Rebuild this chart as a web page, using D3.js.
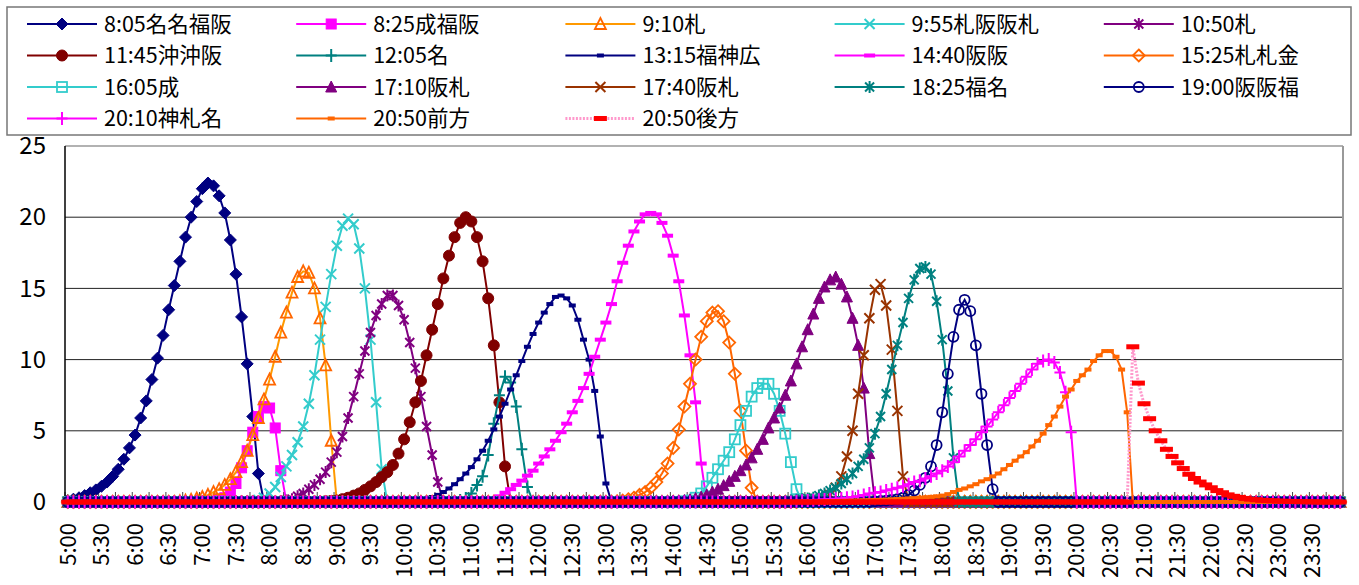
<!DOCTYPE html>
<html>
<head>
<meta charset="utf-8">
<script src="https://cdn.jsdelivr.net/npm/d3@7"></script>
<style>
body { margin: 0; background: #fff; }
svg { display: block; }
text { font-family: "Noto Sans CJK JP", sans-serif; fill: #000; }
</style>
</head>
<body>
<div id="chart"></div>
<script>
// categories: every 5 minutes from 5:00 to 23:55
const times = [];
for (let h = 5; h < 24; h++) {
	for (let m = 0; m < 60; m += 5) {
		times.push(h + ":" + (m < 10 ? "0" : "") + m);
	}
}
const tickLabels = times.filter((t, i) => i % 6 == 0);
const yTicks = [0, 5, 10, 15, 20, 25];

const names = ["8:05名名福阪", "8:25成福阪", "9:10札", "9:55札阪阪札", "10:50札",
	"11:45沖沖阪", "12:05名", "13:15福神広", "14:40阪阪", "15:25札札金",
	"16:05成", "17:10阪札", "17:40阪札", "18:25福名", "19:00阪阪福",
	"20:10神札名", "20:50前方", "20:50後方"];

// first category of each series' non-zero part (zero everywhere else)
const starts = ["5:00", "7:15", "6:40", "7:45", "8:10", "8:50", "10:50", "10:10", "11:10",
	"13:10", "14:10", "14:00", "16:10", "15:40", "17:00", "15:50", "16:15", "20:50"];

const s0805 = [0.1, 0.2, 0.3, 0.45, 0.65, 0.85, 1.1, 1.4, 1.8, 2.3, 3.0, 3.8, 4.7, 5.9, 7.1, 8.6, 10.1, 11.7,
	13.5, 15.2, 16.9, 18.6, 20.0, 21.1, 22.0, 22.4, 22.2, 21.5, 20.3, 18.4, 16.0, 13.0, 9.7, 6.0, 2.0];
const s0825 = [0.1, 0.3, 0.7, 1.3, 2.4, 3.6, 4.9, 6.0, 6.7, 6.6, 5.2, 2.2];
const s0910 = [0.05, 0.1, 0.15, 0.25, 0.35, 0.5, 0.7, 0.9, 1.2, 1.6, 2.1, 2.8, 3.6, 4.7, 5.9, 7.2, 8.6, 10.2,
	11.9, 13.3, 14.7, 15.8, 16.2, 16.1, 15.0, 12.9, 9.6, 4.3];
const s0955 = [0.05, 0.15, 0.3, 0.6, 1.05, 1.75, 2.5, 3.3, 4.2, 5.3, 6.9, 8.9, 11.4, 13.7, 16.0, 18.0, 19.4, 19.9,
	19.5, 17.8, 15.0, 11.4, 7.0, 2.3];
const s1050 = [0.05, 0.1, 0.2, 0.4, 0.6, 0.9, 1.2, 1.6, 2.1, 2.8, 3.5, 4.6, 5.9, 7.4, 9.0, 10.6, 11.9, 13.1,
	13.9, 14.5, 14.5, 13.8, 12.8, 11.2, 9.4, 7.4, 5.3, 3.3, 1.4];
const s1145 = [0.05, 0.08, 0.1, 0.2, 0.3, 0.45, 0.6, 0.85, 1.1, 1.4, 1.75, 2.1, 2.6, 3.4, 4.4, 5.6, 7.0, 8.5,
	10.3, 12.1, 13.9, 15.7, 17.3, 18.6, 19.6, 20.0, 19.7, 18.6, 16.9, 14.3, 11.0, 7.0, 2.5];
const s1205 = [0.1, 0.25, 0.6, 1.2, 1.8, 3.3, 5.5, 7.5, 8.8, 8.4, 6.7, 3.7, 1.05];
const s1315 = [0.05, 0.1, 0.2, 0.35, 0.5, 0.7, 0.95, 1.25, 1.6, 2.0, 2.45, 3.0, 3.6, 4.3, 5.1, 6.0, 6.9, 7.9,
	8.9, 9.9, 10.9, 11.8, 12.6, 13.3, 13.9, 14.4, 14.5, 14.3, 13.8, 12.8, 11.4, 10.0, 7.8, 4.6, 1.3];
const s1440 = [0.05, 0.1, 0.2, 0.4, 0.65, 0.9, 1.2, 1.5, 1.85, 2.2, 2.7, 3.2, 3.7, 4.3, 4.9, 5.5, 6.3, 7.1,
	8.0, 9.0, 10.2, 11.4, 12.6, 13.9, 15.5, 16.8, 18.0, 19.0, 19.7, 20.2, 20.3, 20.2, 19.6, 18.7, 17.3, 15.5,
	13.1, 10.3, 7.0, 2.7];
const s1525 = [0.05, 0.1, 0.2, 0.3, 0.5, 0.7, 1.0, 1.4, 2.0, 2.7, 3.8, 5.1, 6.7, 8.3, 10.0, 11.6, 12.7, 13.3,
	13.4, 12.7, 11.2, 9.0, 6.4, 3.6, 1.0];
const s1605 = [0.05, 0.1, 0.3, 0.6, 1.1, 1.7, 2.3, 2.9, 3.5, 4.4, 5.4, 6.4, 7.4, 8.0, 8.3, 8.3, 7.6, 6.4, 4.8,
	2.8, 0.9];
const s1710 = [0.05, 0.08, 0.1, 0.15, 0.25, 0.35, 0.5, 0.7, 0.9, 1.15, 1.45, 1.8, 2.2, 2.6, 3.1, 3.7, 4.4, 5.2,
	5.9, 6.6, 7.5, 8.5, 9.7, 10.9, 12.1, 13.2, 14.3, 15.1, 15.6, 15.8, 15.3, 14.4, 12.9, 11.0, 8.0, 3.4];
const s1740 = [0.1, 0.2, 0.5, 1.0, 1.8, 3.2, 5.0, 7.6, 10.3, 12.9, 14.9, 15.3, 13.8, 10.7, 6.4, 1.8];
const s1825 = [0.05, 0.1, 0.15, 0.2, 0.25, 0.3, 0.45, 0.6, 0.8, 1.0, 1.3, 1.6, 2.0, 2.5, 3.0, 3.8, 4.8, 6.0,
	7.6, 9.3, 11.0, 12.6, 14.3, 15.6, 16.4, 16.5, 16.0, 14.1, 11.4, 7.8, 3.1];
const s1900 = [0.05, 0.08, 0.1, 0.15, 0.2, 0.3, 0.5, 0.8, 1.2, 1.7, 2.5, 4.0, 6.3, 9.0, 11.6, 13.5, 14.2, 13.4,
	11.0, 7.6, 4.0, 0.9];
const s2010 = [0.05, 0.08, 0.1, 0.12, 0.15, 0.18, 0.2, 0.22, 0.25, 0.3, 0.35, 0.4, 0.5, 0.6, 0.65, 0.7, 0.8, 0.9,
	1.0, 1.1, 1.25, 1.4, 1.5, 1.65, 1.8, 2.0, 2.2, 2.5, 2.8, 3.2, 3.6, 4.0, 4.4, 4.9, 5.3, 5.8, 6.3, 6.8, 7.3,
	7.8, 8.3, 8.8, 9.3, 9.7, 9.9, 10.0, 9.8, 9.1, 7.7, 4.9];
const s2050a = [0.05, 0.06, 0.07, 0.08, 0.09, 0.1, 0.11, 0.12, 0.13, 0.14, 0.15, 0.17, 0.19, 0.21, 0.23, 0.25,
	0.27, 0.3, 0.33, 0.36, 0.4, 0.45, 0.55, 0.7, 0.85, 0.95, 1.1, 1.25, 1.45, 1.6, 1.8, 2.0, 2.3, 2.6, 2.9, 3.2,
	3.5, 3.9, 4.3, 4.8, 5.4, 6.0, 6.7, 7.4, 7.9, 8.5, 8.9, 9.3, 9.9, 10.3, 10.6, 10.6, 10.2, 9.3, 6.3];
const s2050b = [10.9, 8.35, 6.9, 5.85, 5.0, 4.3, 3.7, 3.2, 2.75, 2.35, 1.95, 1.65, 1.4, 1.2, 1.0, 0.8, 0.65,
	0.5, 0.4, 0.32, 0.25, 0.2, 0.16, 0.12, 0.1, 0.08, 0.06, 0.05, 0.04, 0.03, 0.02, 0.02, 0.01];

const parts = [s0805, s0825, s0910, s0955, s1050, s1145, s1205, s1315, s1440, s1525,
	s1605, s1710, s1740, s1825, s1900, s2010, s2050a, s2050b];

// line colour, marker type, marker colour, filled
const styles = [
	{ c: "#000080", m: "diamond", f: true },
	{ c: "#FF00FF", m: "square", f: true },
	{ c: "#FF9900", mc: "#FF6600", m: "triangle", f: false },
	{ c: "#33CCCC", m: "x" },
	{ c: "#800080", m: "star" },
	{ c: "#800000", m: "circle", f: true },
	{ c: "#008080", m: "plus" },
	{ c: "#000080", m: "dash" },
	{ c: "#FF00FF", m: "longdash" },
	{ c: "#FF6600", m: "diamond", f: false },
	{ c: "#33CCCC", m: "square", f: false },
	{ c: "#800080", m: "triangle", f: true },
	{ c: "#993300", m: "x" },
	{ c: "#008080", m: "star" },
	{ c: "#000080", m: "circle", f: false },
	{ c: "#FF00FF", m: "plus" },
	{ c: "#FF6600", m: "dash" },
	{ c: "#FF99CC", mc: "#FF0000", m: "bigdash", dash: "2,1.5", w: 3 }
];

const series = names.map((name, k) => {
	const s = times.indexOf(starts[k]);
	const vals = times.map((t, i) => (i >= s && i < s + parts[k].length) ? parts[k][i - s] : 0);
	return { name: name, values: vals, style: styles[k] };
});

const W = 1359, H = 585;
const plotL = 65, plotR = 1343, plotT = 146, plotB = 502;

const svg = d3.select("#chart").append("svg")
	.attr("width", W)
	.attr("height", H);

const x = d3.scaleBand().domain(times).range([plotL, plotR]);
const cx = (t) => x(t) + x.bandwidth() / 2;
const y = d3.scaleLinear().domain([0, 25]).range([plotB, plotT]);

function marker(g, st) {
	const col = st.mc || st.c;
	const fill = st.f ? col : "none";
	switch (st.m) {
		case "diamond":
			g.append("path").attr("d", "M0,-6L6,0L0,6L-6,0Z")
				.attr("fill", fill).attr("stroke", col).attr("stroke-width", st.f ? 1 : 1.8);
			break;
		case "square":
			g.append("rect").attr("x", -5).attr("y", -5).attr("width", 10).attr("height", 10)
				.attr("fill", fill).attr("stroke", col).attr("stroke-width", st.f ? 1 : 1.8);
			break;
		case "triangle":
			g.append("path").attr("d", "M0,-6L5.5,5L-5.5,5Z")
				.attr("fill", fill).attr("stroke", col).attr("stroke-width", st.f ? 1 : 1.8);
			break;
		case "circle":
			g.append("circle").attr("r", st.f ? 5.5 : 5)
				.attr("fill", fill).attr("stroke", col).attr("stroke-width", st.f ? 1 : 1.8);
			break;
		case "x":
			g.append("path").attr("d", "M-5,-5L5,5M-5,5L5,-5")
				.attr("stroke", col).attr("stroke-width", 2).attr("fill", "none");
			break;
		case "star":
			g.append("path").attr("d", "M-4.5,-4.5L4.5,4.5M-4.5,4.5L4.5,-4.5M0,-6L0,6")
				.attr("stroke", col).attr("stroke-width", 2).attr("fill", "none");
			break;
		case "plus":
			g.append("path").attr("d", "M-5.5,0L5.5,0M0,-6.5L0,6.5")
				.attr("stroke", col).attr("stroke-width", 2).attr("fill", "none");
			break;
		case "dash":
			g.append("rect").attr("x", -3.5).attr("y", -2).attr("width", 7).attr("height", 4).attr("fill", col);
			break;
		case "longdash":
			g.append("rect").attr("x", -5.5).attr("y", -2).attr("width", 11).attr("height", 4).attr("fill", col);
			break;
		case "bigdash":
			g.append("rect").attr("x", -6.5).attr("y", -2.5).attr("width", 13).attr("height", 5).attr("fill", col);
			break;
	}
}

// gridlines
svg.append("g")
	.selectAll("line")
	.data(yTicks.filter((d) => d > 0 && d < 25))
	.enter()
	.append("line")
	.attr("x1", plotL)
	.attr("x2", plotR)
	.attr("y1", (d) => y(d))
	.attr("y2", (d) => y(d))
	.attr("stroke", "#222")
	.attr("stroke-width", 1);

// plot border top / right
svg.append("line").attr("x1", plotL).attr("x2", plotR).attr("y1", plotT).attr("y2", plotT)
	.attr("stroke", "#999").attr("stroke-width", 1.5);
svg.append("line").attr("x1", plotR).attr("x2", plotR).attr("y1", plotT).attr("y2", plotB)
	.attr("stroke", "#999").attr("stroke-width", 2);

// x tick marks every 3 categories
svg.append("g")
	.selectAll("line")
	.data(d3.range(0, times.length + 1, 3))
	.enter()
	.append("line")
	.attr("x1", (k) => plotL + k * x.step())
	.attr("x2", (k) => plotL + k * x.step())
	.attr("y1", plotB - 10)
	.attr("y2", plotB + 5)
	.attr("stroke", "#444")
	.attr("stroke-width", 1);

// axes lines
svg.append("line").attr("x1", plotL).attr("x2", plotL).attr("y1", plotT).attr("y2", plotB)
	.attr("stroke", "#000").attr("stroke-width", 1.5);
svg.append("line").attr("x1", plotL).attr("x2", plotR).attr("y1", plotB).attr("y2", plotB)
	.attr("stroke", "#000").attr("stroke-width", 1.5);

// y labels
const yAxis = svg.append("g")
	.attr("transform", "translate(" + (plotL - 19) + ",0)")
	.call(d3.axisLeft(y).tickValues(yTicks).tickSize(0).tickPadding(0));
yAxis.select(".domain").remove();
yAxis.selectAll("text").style("font-size", "24px").attr("fill", "#000");

// x labels
const xAxis = svg.append("g")
	.attr("transform", "translate(0," + plotB + ")")
	.call(d3.axisBottom(x).tickValues(tickLabels).tickSize(0));
xAxis.select(".domain").remove();
xAxis.selectAll("text")
	.style("font-size", "22px")
	.attr("fill", "#000")
	.attr("text-anchor", "end")
	.attr("transform", "translate(0,21) rotate(-90)")
	.attr("x", 0)
	.attr("y", 0)
	.attr("dy", "0.35em");

// series
const line = d3.line()
	.x((d, i) => cx(times[i]))
	.y((d) => y(d));

series.forEach((s) => {
	const g = svg.append("g");
	g.append("path")
		.attr("d", line(s.values))
		.attr("fill", "none")
		.attr("stroke", s.style.c)
		.attr("stroke-width", s.style.w || 2)
		.attr("stroke-dasharray", s.style.dash || null);
	g.selectAll("g")
		.data(s.values)
		.enter()
		.append("g")
		.attr("transform", (d, i) => "translate(" + cx(times[i]) + "," + y(d) + ")")
		.each(function () {
			marker(d3.select(this), s.style);
		});
});

// legend
const legend = svg.append("g");
legend.append("rect")
	.attr("x", 7)
	.attr("y", 7)
	.attr("width", 1344)
	.attr("height", 128)
	.attr("fill", "#fff")
	.attr("stroke", "#777")
	.attr("stroke-width", 1.5);

series.forEach((s, k) => {
	const col = k % 5, row = Math.floor(k / 5);
	const lx = 27 + col * 269.2, ly = 24 + row * 31.5;
	const g = legend.append("g");
	g.append("line")
		.attr("x1", lx)
		.attr("x2", lx + 70)
		.attr("y1", ly)
		.attr("y2", ly)
		.attr("stroke", s.style.c)
		.attr("stroke-width", s.style.w || 2)
		.attr("stroke-dasharray", s.style.dash || null);
	const mg = g.append("g").attr("transform", "translate(" + (lx + 35) + "," + ly + ")");
	marker(mg, s.style);
	g.append("text")
		.attr("x", lx + 77)
		.attr("y", ly)
		.attr("dy", "0.36em")
		.style("font-size", "21.5px")
		.text(s.name);
});
</script>
</body>
</html>
